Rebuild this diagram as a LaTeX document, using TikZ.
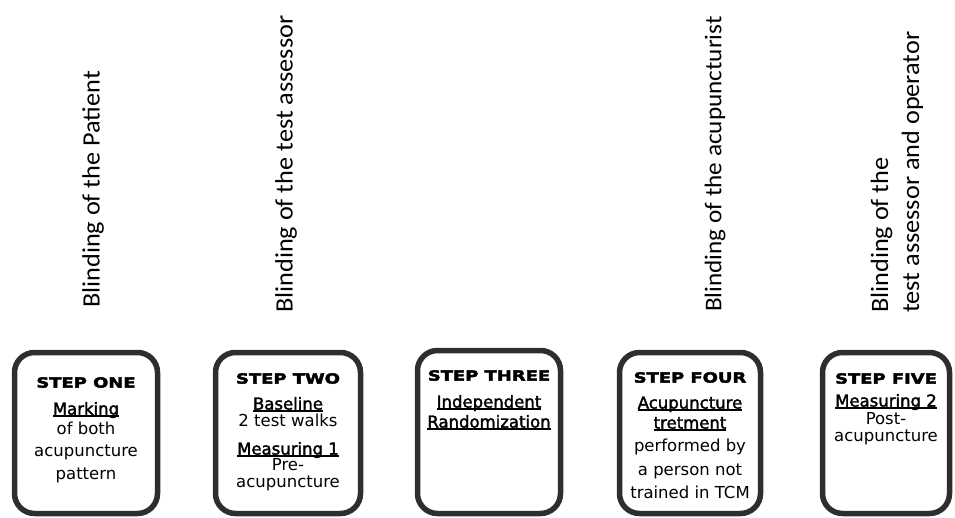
\documentclass[tikz,border=0pt]{standalone}
\usepackage{fontspec}
\setmainfont{DejaVu Sans}
\newfontfamily\titlefont[FakeStretch=1.28,FakeBold=3]{DejaVu Sans Bold}
\newfontfamily\headfont[FakeBold=2]{DejaVu Sans}
\newfontfamily\labelfont[FakeStretch=1.05]{Carlito}
\tikzset{
  stepbox/.style={draw=black!82, line width=5.5pt, rounded corners=20pt, fill=white, inner sep=0pt},
  boxtext/.style={align=center, anchor=north, inner sep=0pt, font=\fontsize{16.5}{17}\selectfont},
  vlabel/.style={rotate=90, anchor=west, inner sep=0pt, align=left, font=\labelfont\fontsize{25}{31}\selectfont},
}
\newcommand{\steptitle}[1]{{\titlefont\fontsize{14}{17}\selectfont #1}}
\newcommand{\uhead}[1]{\setbox0\hbox{\headfont #1}\rlap{\rule[-2pt]{\wd0}{1.4pt}}\box0}
\begin{document}
\begin{tikzpicture}[x=1pt,y=-1pt]
\useasboundingbox (0,0) rectangle (955,518);
% boxes
\node[stepbox, minimum width=143pt, minimum height=161pt] (b1) at (86,433) {};
\node[stepbox, minimum width=145pt, minimum height=161pt] (b2) at (288,433) {};
\node[stepbox, minimum width=143pt, minimum height=163pt] (b3) at (489,432) {};
\node[stepbox, minimum width=141pt, minimum height=161pt] (b4) at (690,433) {};
\node[stepbox, minimum width=127pt, minimum height=161pt] (b5) at (886,433) {};
% texts
\node[boxtext] (t1) at (86,377) {\steptitle{STEP ONE}\\[10pt]\uhead{Marking}\\[3pt]of both\\[5pt]acupuncture\\[6pt]pattern};
\node[boxtext] (t2) at (288,373) {\steptitle{STEP TWO}\\[9pt]\uhead{Baseline}\\2 test walks\\[11pt]\uhead{Measuring 1}\\[-1pt]Pre-\\acupuncture};
\node[boxtext] (t3) at (489,370) {\steptitle{STEP THREE}\\[10pt]\uhead{Independent}\\[3pt]\uhead{Randomization}};
\node[boxtext] (t4) at (690,372) {\steptitle{STEP FOUR}\\[9pt]\uhead{Acupuncture}\\[3pt]\uhead{tretment}\\[6pt]performed by\\[7pt]a person not\\[6pt]trained in TCM};
\node[boxtext] (t5) at (886,373) {\steptitle{STEP FIVE}\\[6pt]\uhead{Measuring 2}\\[1pt]Post-\\acupuncture};
% vertical labels
\node[vlabel] (l1) at (93,308) {Blinding of the Patient};
\node[vlabel] (l2) at (286,313) {Blinding of the test assessor};
\node[vlabel, font=\labelfont\fontsize{24}{31}\selectfont] (l4) at (715,312) {Blinding of the acupuncturist};
\node[vlabel] (l5) at (897,313) {Blinding of the\\test assessor and operator};
\end{tikzpicture}
\end{document}
